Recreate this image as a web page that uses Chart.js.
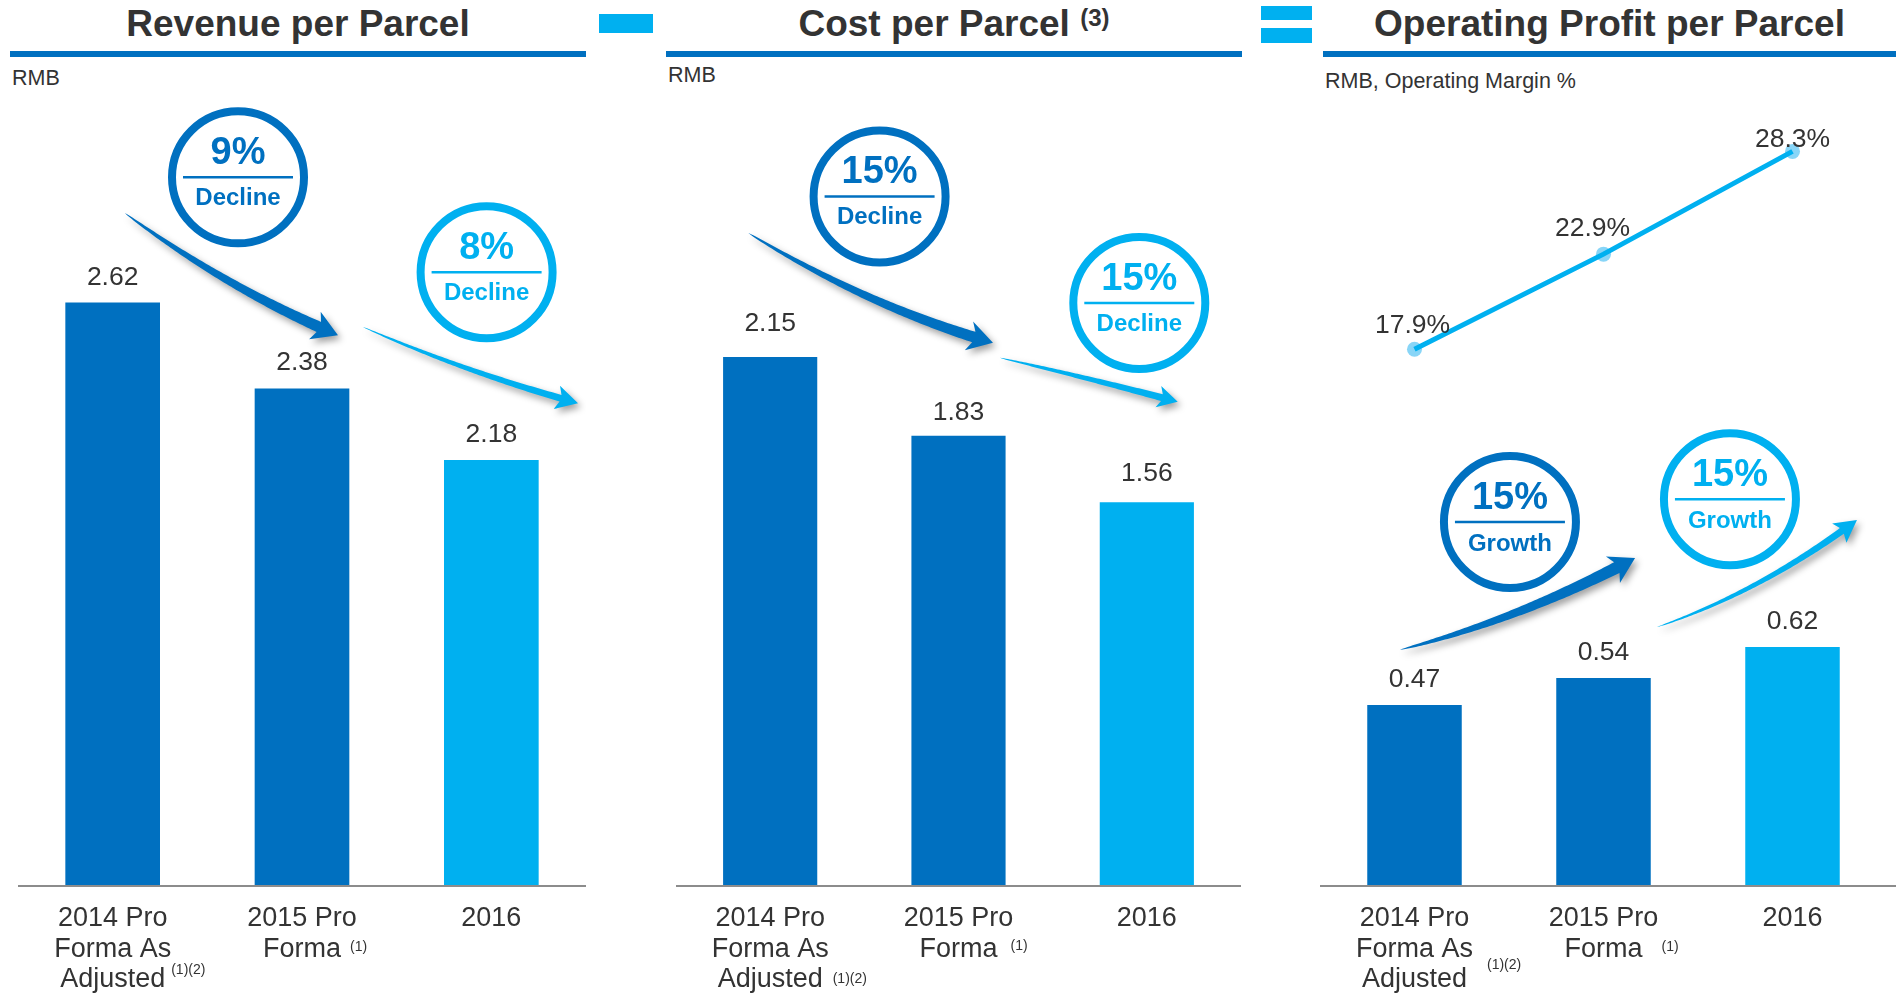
<!DOCTYPE html>
<html>
<head>
<meta charset="utf-8">
<script src="https://cdn.jsdelivr.net/npm/chart.js@4.4.1/dist/chart.umd.min.js"></script>
<style>
html,body{margin:0;padding:0;background:#fff;width:1896px;height:994px;overflow:hidden;font-family:"Liberation Sans",Arial,sans-serif;color:#333;}
.title{position:absolute;top:4px;height:44px;font-weight:bold;font-size:37px;line-height:40px;text-align:center;white-space:nowrap;color:#333;}
.title .sup{font-size:24px;position:relative;top:-10px;}
.rule{position:absolute;top:51px;height:6px;background:#0070C0;}
.unit{position:absolute;font-size:21.5px;line-height:20px;white-space:nowrap;color:#333;}
.op{position:absolute;background:#00B0F0;}
canvas{position:absolute;top:0;}
</style>
</head>
<body>
<div class="title" style="left:10px;width:576px;">Revenue per Parcel</div>
<div class="title" style="left:666px;width:576px;">Cost per Parcel <span class="sup">(3)</span></div>
<div class="title" style="left:1323px;width:573px;">Operating Profit per Parcel</div>
<div class="rule" style="left:10px;width:576px;"></div>
<div class="rule" style="left:666px;width:576px;"></div>
<div class="rule" style="left:1323px;width:573px;"></div>
<div class="op" style="left:599px;top:14px;width:54px;height:19px;"></div>
<div class="op" style="left:1261px;top:6px;width:51px;height:14px;"></div>
<div class="op" style="left:1261px;top:28px;width:51px;height:15px;"></div>
<div class="unit" style="left:12px;top:68px;">RMB</div>
<div class="unit" style="left:668px;top:65px;">RMB</div>
<div class="unit" style="left:1325px;top:71px;">RMB, Operating Margin %</div>

<canvas id="c1" width="568" height="994" style="left:18px;"></canvas>
<canvas id="c2" width="565" height="994" style="left:676px;"></canvas>
<canvas id="c3" width="576" height="994" style="left:1320px;"></canvas>

<script>
// ---------------- data ----------------
const CATEGORY_LINES = [["2014 Pro", "Forma As", "Adjusted"], ["2015 Pro", "Forma"], ["2016"]];
const CATEGORY_NOTES = ["(1)(2)", "(1)", ""];
const REVENUE_PER_PARCEL = [2.62, 2.38, 2.18];
const COST_PER_PARCEL = [2.15, 1.83, 1.56];
const OP_PROFIT_PER_PARCEL = [0.47, 0.54, 0.62];
const OP_MARGIN_PCT = [17.9, 22.9, 28.3];
const REVENUE_CHANGE = ["9%", "8%"];
const COST_CHANGE = ["15%", "15%"];
const PROFIT_CHANGE = ["15%", "15%"];
const DECLINE_WORD = "Decline";
const GROWTH_WORD = "Growth";

// ---------------- style ----------------
const DARK = '#0070C0', LIGHT = '#00B0F0', TEXT = '#333333', AXIS = '#8C8C8C', POINT = '#88D5F7';
const FONT = '"Liberation Sans", Arial, sans-serif';
Chart.defaults.font.family = FONT;

const PANELS = [
  {
    id: 'c1', values: REVENUE_PER_PARCEL, yMin: 0.99, yMax: 3.186, padRight: 0,
    colors: [DARK, DARK, LIGHT],
    labelGaps: [18, 18, 18],
    notes: [{line: 2, gap: 6, dy: -13}, {line: 1, gap: 9, dy: -6}, null],
    circles: [
      {x: 0.662, y: 2.970, color: DARK, big: REVENUE_CHANGE[0], word: DECLINE_WORD},
      {x: 1.975, y: 2.705, color: LIGHT, big: REVENUE_CHANGE[1], word: DECLINE_WORD}
    ],
    arrows: [
      {color: DARK, w: 11, hl: 25, hw: 15, sweep: 6, from: [0.065, 2.870], ctrl: [0.620, 2.655], to: [1.190, 2.529]},
      {color: LIGHT, w: 7, hl: 22, hw: 12, sweep: 5, from: [1.322, 2.552], ctrl: [1.861, 2.426], to: [2.458, 2.339]}
    ]
  },
  {
    id: 'c2', values: COST_PER_PARCEL, yMin: 0, yMax: 3.195, padRight: 0,
    colors: [DARK, DARK, LIGHT],
    labelGaps: [26.5, 15.5, 21.5],
    notes: [{line: 2, gap: 10, dy: -4}, {line: 1, gap: 13, dy: -6.5}, null],
    circles: [
      {x: 0.581, y: 2.803, color: DARK, big: COST_CHANGE[0], word: DECLINE_WORD},
      {x: 1.960, y: 2.370, color: LIGHT, big: COST_CHANGE[1], word: DECLINE_WORD}
    ],
    arrows: [
      {color: DARK, w: 11, hl: 25, hw: 15, sweep: 6, from: [-0.117, 2.655], ctrl: [0.528, 2.353], to: [1.183, 2.208]},
      {color: LIGHT, w: 7, hl: 20, hw: 11, sweep: 5, from: [1.220, 2.147], ctrl: [1.692, 2.065], to: [2.164, 1.968]}
    ]
  },
  {
    id: 'c3', values: OP_PROFIT_PER_PARCEL, yMin: 0, yMax: 2.04, padRight: 9,
    colors: [DARK, DARK, LIGHT],
    labelGaps: [18, 18, 18],
    notes: [{line: 1, gap: 14, dy: 12.5}, {line: 1, gap: 19, dy: -5.5}, null],
    margin: OP_MARGIN_PCT, y2Min: -10.3, y2Max: 31.0,
    marginLabelOffsets: [[-2, -16], [-11, -18], [0, -4]],
    circles: [
      {x: 0.505, y: 0.945, color: DARK, big: PROFIT_CHANGE[0], word: GROWTH_WORD, wordDy: 29},
      {x: 1.669, y: 1.004, color: LIGHT, big: PROFIT_CHANGE[1], word: GROWTH_WORD, wordDy: 29}
    ],
    arrows: [
      {color: DARK, w: 12, hl: 25, hw: 15, sweep: 6, from: [-0.077, 0.613], ctrl: [0.545, 0.690], to: [1.167, 0.851]},
      {color: LIGHT, w: 7, hl: 22, hw: 12, sweep: 5, from: [1.283, 0.672], ctrl: [1.828, 0.763], to: [2.341, 0.950]}
    ]
  }
];

// ---------------- drawing helpers ----------------
function drawArrow(ctx, P0, C, P1, a) {
  const N = 90, pts = [], tans = [], lens = [0];
  for (let i = 0; i <= N; i++) {
    const t = i / N, k0 = (1 - t) * (1 - t), k1 = 2 * t * (1 - t), k2 = t * t;
    pts.push([k0 * P0[0] + k1 * C[0] + k2 * P1[0], k0 * P0[1] + k1 * C[1] + k2 * P1[1]]);
    const tx = 2 * (1 - t) * (C[0] - P0[0]) + 2 * t * (P1[0] - C[0]);
    const ty = 2 * (1 - t) * (C[1] - P0[1]) + 2 * t * (P1[1] - C[1]);
    const tl = Math.hypot(tx, ty);
    tans.push([tx / tl, ty / tl]);
    if (i > 0) lens.push(lens[i - 1] + Math.hypot(pts[i][0] - pts[i - 1][0], pts[i][1] - pts[i - 1][1]));
  }
  const total = lens[N];
  const u = tans[N], n = [-u[1], u[0]];
  const joinLen = total - (a.hl - a.sweep);
  const left = [], right = [];
  for (let i = 0; i <= N; i++) {
    if (lens[i] > joinLen) break;
    const s = lens[i] / joinLen, half = a.w / 2 * Math.pow(s, 0.6);
    const tn = [-tans[i][1], tans[i][0]];
    left.push([pts[i][0] + tn[0] * half, pts[i][1] + tn[1] * half]);
    right.push([pts[i][0] - tn[0] * half, pts[i][1] - tn[1] * half]);
  }
  const base = [P1[0] - u[0] * a.hl, P1[1] - u[1] * a.hl];
  ctx.save();
  ctx.shadowColor = 'rgba(0,0,0,0.38)';
  ctx.shadowBlur = 7;
  ctx.shadowOffsetX = 3;
  ctx.shadowOffsetY = 4;
  ctx.beginPath();
  ctx.moveTo(left[0][0], left[0][1]);
  left.forEach(p => ctx.lineTo(p[0], p[1]));
  ctx.lineTo(base[0] + n[0] * a.hw, base[1] + n[1] * a.hw);
  ctx.lineTo(P1[0], P1[1]);
  ctx.lineTo(base[0] - n[0] * a.hw, base[1] - n[1] * a.hw);
  for (let i = right.length - 1; i >= 0; i--) ctx.lineTo(right[i][0], right[i][1]);
  ctx.closePath();
  ctx.fillStyle = a.color;
  ctx.fill();
  ctx.restore();
}

function drawBadge(ctx, cx, cy, c) {
  ctx.save();
  ctx.beginPath();
  ctx.arc(cx, cy, 66, 0, Math.PI * 2);
  ctx.fillStyle = '#ffffff';
  ctx.fill();
  ctx.lineWidth = 8;
  ctx.strokeStyle = c.color;
  ctx.stroke();
  ctx.beginPath();
  ctx.moveTo(cx - 55, cy);
  ctx.lineTo(cx + 55, cy);
  ctx.lineWidth = 2.5;
  ctx.stroke();
  ctx.fillStyle = c.color;
  ctx.textAlign = 'center';
  ctx.textBaseline = 'alphabetic';
  ctx.font = 'bold 38px ' + FONT;
  ctx.fillText(c.big, cx, cy - 13);
  ctx.font = 'bold 24px ' + FONT;
  ctx.fillText(c.word, cx, cy + (c.wordDy || 28));
  ctx.restore();
}

function decoPlugin(panel) {
  return {
    id: 'deco_' + panel.id,
    afterDatasetsDraw(chart) {
      const ctx = chart.ctx, xs = chart.scales.x, ys = chart.scales.y, area = chart.chartArea;
      ctx.save();
      // baseline
      ctx.strokeStyle = AXIS;
      ctx.lineWidth = 2;
      ctx.beginPath();
      ctx.moveTo(area.left, area.bottom);
      ctx.lineTo(chart.width, area.bottom);
      ctx.stroke();

      // bar value labels
      ctx.fillStyle = TEXT;
      ctx.textAlign = 'center';
      ctx.textBaseline = 'alphabetic';
      ctx.font = '26.5px ' + FONT;
      chart.getDatasetMeta(0).data.forEach((el, i) => {
        ctx.fillText(panel.values[i].toFixed(2), el.x, el.y - panel.labelGaps[i]);
      });

      // margin labels
      if (panel.margin) {
        const lm = chart.getDatasetMeta(2);
        lm.data.forEach((el, i) => {
          const o = panel.marginLabelOffsets[i];
          ctx.fillText(panel.margin[i].toFixed(1) + '%', el.x + o[0], el.y + o[1]);
        });
      }

      // arrows
      panel.arrows.forEach(a => {
        const P0 = [xs.getPixelForValue(a.from[0]), ys.getPixelForValue(a.from[1])];
        const C = [xs.getPixelForValue(a.ctrl[0]), ys.getPixelForValue(a.ctrl[1])];
        const P1 = [xs.getPixelForValue(a.to[0]), ys.getPixelForValue(a.to[1])];
        drawArrow(ctx, P0, C, P1, a);
      });

      // badges
      panel.circles.forEach(c => {
        drawBadge(ctx, xs.getPixelForValue(c.x), ys.getPixelForValue(c.y), c);
      });

      // category labels
      const firstBase = area.bottom + 40, lh = 30.5;
      CATEGORY_LINES.forEach((lines, i) => {
        const cx = xs.getPixelForValue(i);
        ctx.font = '27px ' + FONT;
        ctx.fillStyle = TEXT;
        ctx.textAlign = 'center';
        lines.forEach((t, j) => ctx.fillText(t, cx, firstBase + j * lh));
        const note = panel.notes[i];
        if (note && CATEGORY_NOTES[i]) {
          const w = ctx.measureText(lines[note.line]).width;
          ctx.font = '14px ' + FONT;
          ctx.textAlign = 'left';
          ctx.fillText(CATEGORY_NOTES[i], cx + w / 2 + note.gap, firstBase + note.line * lh + note.dy);
        }
      });
      ctx.restore();
    }
  };
}

PANELS.forEach(panel => {
  const datasets = [{
    type: 'bar',
    data: panel.values,
    backgroundColor: panel.colors,
    borderWidth: 0,
    barPercentage: 0.5,
    categoryPercentage: 1.0,
    yAxisID: 'y',
    order: 3
  }];
  const scales = {
    x: {display: false, grid: {display: false, drawTicks: false}},
    y: {display: false, min: panel.yMin, max: panel.yMax, grid: {display: false}}
  };
  if (panel.margin) {
    datasets.push({
      type: 'line', data: panel.margin, yAxisID: 'y2', showLine: false,
      pointRadius: 7.5, pointBackgroundColor: POINT, pointBorderWidth: 0, order: 2
    });
    datasets.push({
      type: 'line', data: panel.margin, yAxisID: 'y2', borderColor: LIGHT, borderWidth: 5,
      pointRadius: 0, tension: 0, fill: false, order: 1
    });
    scales.y2 = {display: false, position: 'right', min: panel.y2Min, max: panel.y2Max, grid: {display: false}};
  }
  new Chart(document.getElementById(panel.id), {
    type: 'bar',
    data: {labels: CATEGORY_LINES.map(l => l.join(' ')), datasets},
    options: {
      responsive: false,
      animation: false,
      events: [],
      layout: {autoPadding: false, padding: {top: 100, bottom: 108, left: 0, right: panel.padRight}},
      plugins: {legend: {display: false}, tooltip: {enabled: false}, title: {display: false}},
      scales
    },
    plugins: [decoPlugin(panel)]
  });
});
</script>
</body>
</html>
